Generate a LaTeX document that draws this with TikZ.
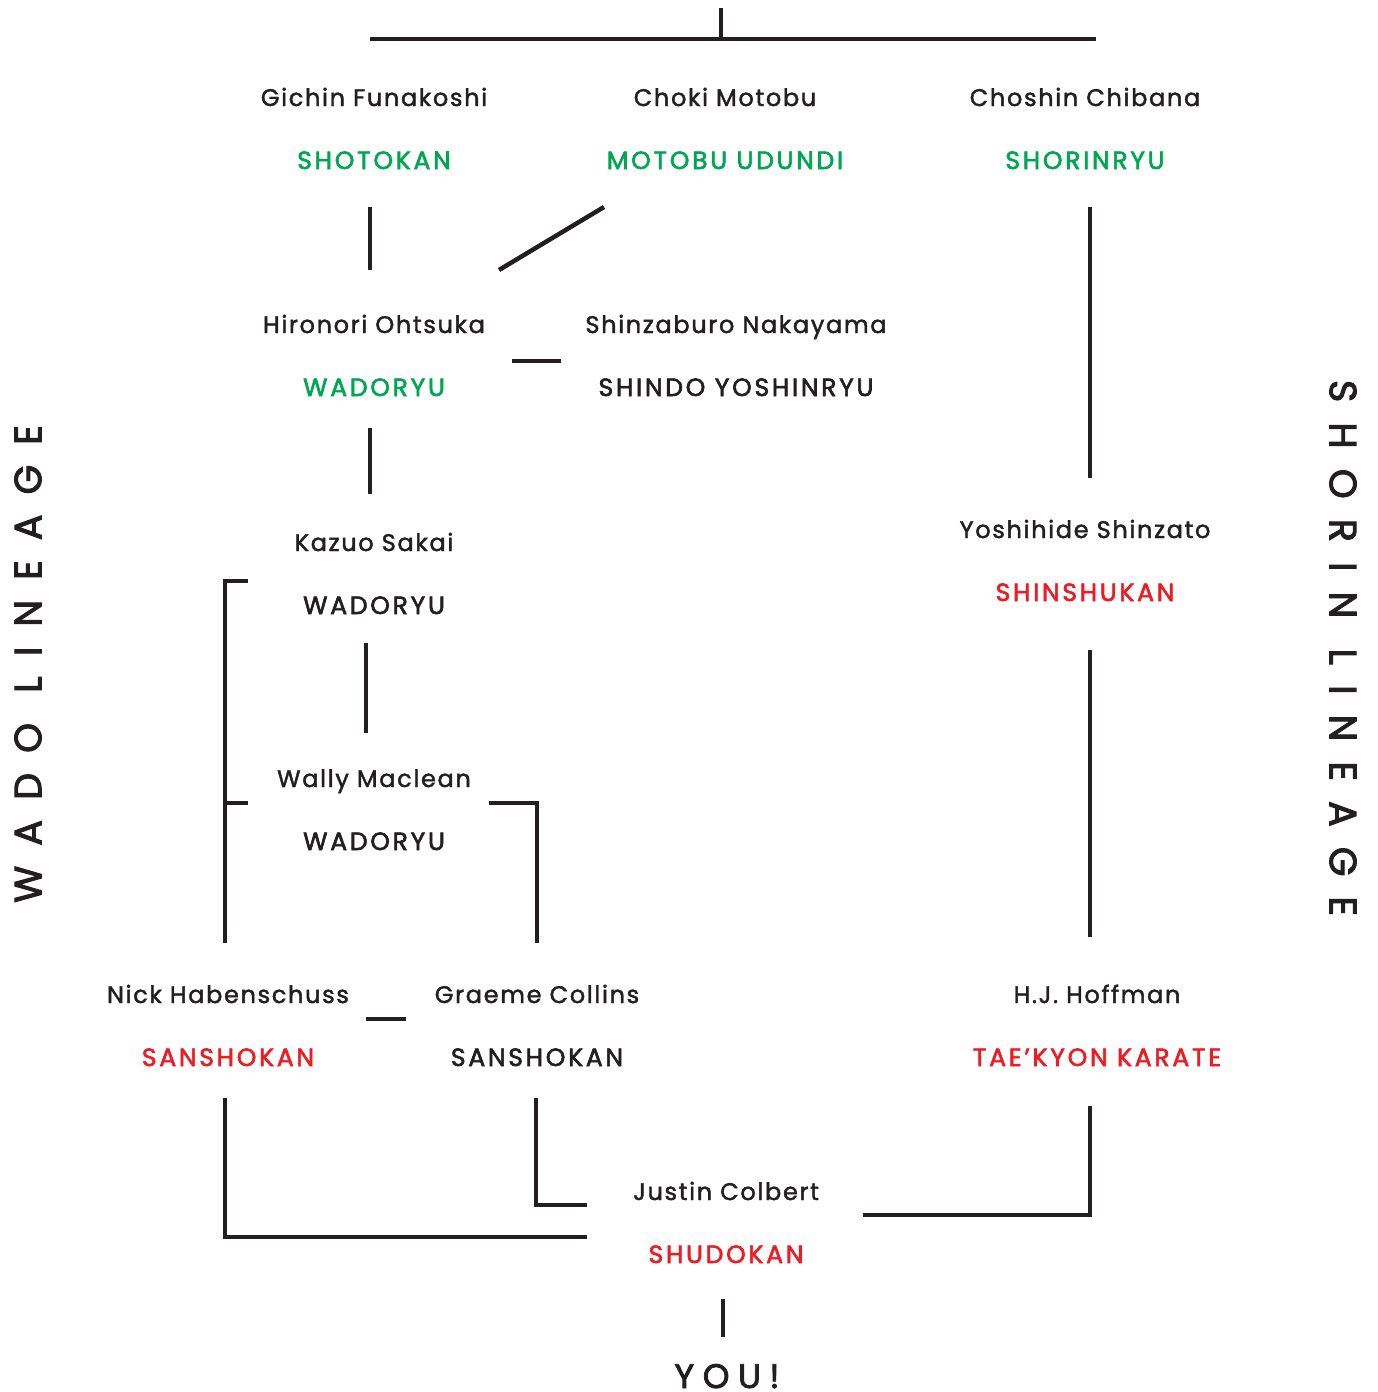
\documentclass[tikz,border=0pt]{standalone}
\usepackage{fontspec}
\setmainfont{Poppins}[LetterSpace=7, FakeBold=1.8]
\newfontfamily\schoolfont{Poppins}[LetterSpace=11, FakeBold=2.4]
\newfontfamily\sidefont{Poppins}[LetterSpace=53, FakeBold=2.6]
\newfontfamily\youfont{Poppins}[LetterSpace=25, FakeBold=2.4]
\definecolor{kgreen}{HTML}{00A651}
\definecolor{kred}{HTML}{ED1C24}
\definecolor{kblack}{HTML}{231F20}
\tikzset{
  person/.style={font=\fontsize{24}{28}\selectfont, text=kblack, inner sep=0pt, anchor=base},
  school/.style={font=\schoolfont\fontsize{25}{29}\selectfont, inner sep=0pt, anchor=base},
  conn/.style={draw=kblack, line width=4.5pt},
  side/.style={font=\sidefont\fontsize{38}{42}\selectfont, text=kblack, inner sep=0pt},
}
\begin{document}
\begin{tikzpicture}[x=1pt,y=-1pt]
\useasboundingbox (0,0) rectangle (1377,1392);
% people and schools
\node[person] (gichin) at (374,106) {Gichin Funakoshi};
\node[school, text=kgreen] (shotokan) at (374,169) {SHOTOKAN};
\node[person] (choki) at (725,106) {Choki Motobu};
\node[school, text=kgreen] (motobu) at (725,169) {MOTOBU UDUNDI};
\node[person] (choshin) at (1085,106) {Choshin Chibana};
\node[school, text=kgreen] (shorinryu) at (1085,169) {SHORINRYU};
\node[person] (hironori) at (374,333) {Hironori Ohtsuka};
\node[school, text=kgreen] (wado1) at (374,396) {WADORYU};
\node[person] (shinzaburo) at (736,333) {Shinzaburo Nakayama};
\node[school, text=kblack] (shindo) at (736,396) {SHINDO YOSHINRYU};
\node[person] (kazuo) at (374,551) {Kazuo Sakai};
\node[school, text=kblack] (wado2) at (374,614) {WADORYU};
\node[person] (wally) at (374,787) {Wally Maclean};
\node[school, text=kblack] (wado3) at (374,850) {WADORYU};
\node[person] (yoshihide) at (1085,538) {Yoshihide Shinzato};
\node[school, text=kred] (shinshukan) at (1085,601) {SHINSHUKAN};
\node[person] (nick) at (228,1003) {Nick Habenschuss};
\node[school, text=kred] (sansho1) at (228,1066) {SANSHOKAN};
\node[person] (graeme) at (537,1003) {Graeme Collins};
\node[school, text=kblack] (sansho2) at (537,1066) {SANSHOKAN};
\node[person] (hj) at (1097,1003) {H.J. Hoffman};
\node[school, text=kred] (taekyon) at (1097,1066) {TAE’KYON KARATE};
\node[person] (justin) at (726,1200) {Justin Colbert};
\node[school, text=kred] (shudokan) at (726,1263) {SHUDOKAN};
\node[font=\youfont\fontsize{34}{38}\selectfont, text=kblack, inner sep=0pt, anchor=base] (you) at (727,1388) {YOU!};
\node[side, rotate=90] (wadolin) at (28,664) {WADO LINEAGE};
\node[side, rotate=-90] (shorinlin) at (1343,648) {SHORIN LINEAGE};
% connector end points
\coordinate (t0) at (721,8);
\coordinate (t1) at (721,39);
\coordinate (tl) at (370,39);
\coordinate (tr) at (1096,39);
\coordinate (a0) at (370,207);
\coordinate (a1) at (370,270);
\coordinate (b0) at (604,207);
\coordinate (b1) at (499,270);
\coordinate (c0) at (1090,207);
\coordinate (c1) at (1090,478);
\coordinate (d0) at (512,361);
\coordinate (d1) at (561,361);
\coordinate (e0) at (370,428);
\coordinate (e1) at (370,494);
\coordinate (f0) at (248,581);
\coordinate (f1) at (225,581);
\coordinate (f2) at (225,943);
\coordinate (f3) at (225,803);
\coordinate (f4) at (248,803);
\coordinate (g0) at (366,643);
\coordinate (g1) at (366,733);
\coordinate (h0) at (489,803);
\coordinate (h1) at (537,803);
\coordinate (h2) at (537,943);
\coordinate (i0) at (1090,650);
\coordinate (i1) at (1090,937);
\coordinate (j0) at (366,1019);
\coordinate (j1) at (406,1019);
\coordinate (k0) at (225,1098);
\coordinate (k1) at (225,1237);
\coordinate (k2) at (587,1237);
\coordinate (l0) at (536,1098);
\coordinate (l1) at (536,1205);
\coordinate (l2) at (587,1205);
\coordinate (m0) at (1090,1106);
\coordinate (m1) at (1090,1215);
\coordinate (m2) at (863,1215);
\coordinate (n0) at (723,1299);
\coordinate (n1) at (723,1337);
% connectors
\draw[conn] (tl) -- (tr);
\draw[conn] (t0) -- (t1);
\draw[conn] (a0) -- (a1);
\draw[conn] (b0) -- (b1);
\draw[conn] (c0) -- (c1);
\draw[conn] (d0) -- (d1);
\draw[conn] (e0) -- (e1);
\draw[conn] (f0) -- (f1) -- (f2);
\draw[conn] (f3) -- (f4);
\draw[conn] (g0) -- (g1);
\draw[conn] (h0) -- (h1) -- (h2);
\draw[conn] (i0) -- (i1);
\draw[conn] (j0) -- (j1);
\draw[conn] (k0) -- (k1) -- (k2);
\draw[conn] (l0) -- (l1) -- (l2);
\draw[conn] (m0) -- (m1) -- (m2);
\draw[conn] (n0) -- (n1);
\end{tikzpicture}
\end{document}
